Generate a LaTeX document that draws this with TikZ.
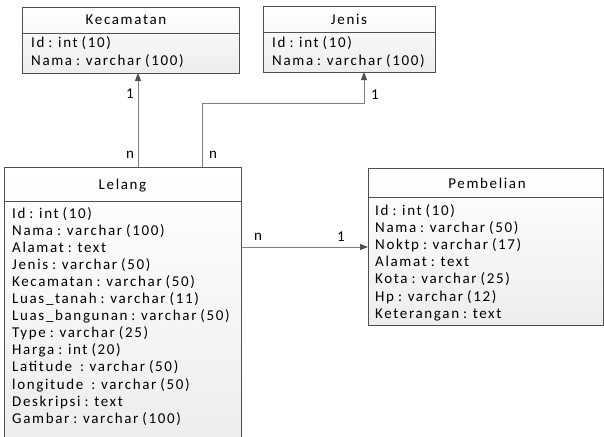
\documentclass[tikz,border=0pt]{standalone}
\usepackage{fontspec}
\setmainfont{Carlito}[LetterSpace=11]
\usetikzlibrary{arrows.meta}
\definecolor{boxline}{HTML}{505050}
\definecolor{connline}{HTML}{808080}
\definecolor{tipcol}{HTML}{505050}
\newcommand{\diafont}{\fontsize{15}{17}\selectfont\spaceskip=4pt\relax}
\tikzset{
  tbl/.style={draw=boxline, line width=0.8pt, top color=white, bottom color=black!7, inner sep=0pt},
  hline/.style={draw=boxline, line width=0.8pt},
  row/.style={anchor=base west, inner sep=0pt, font=\diafont},
  head/.style={anchor=base, inner sep=0pt, font=\diafont},
  lbl/.style={inner sep=0pt, font=\diafont},
  conn/.style={draw=connline, line width=1pt, -{Triangle[width=6pt,length=8pt,color=tipcol]}}
}
\begin{document}
\begin{tikzpicture}[x=1pt,y=-1pt]
\useasboundingbox (0,0) rectangle (604,436);
% boxes
\node[tbl, minimum width=217pt, minimum height=66pt] (kec) at (130.5,40) {};
\node[tbl, minimum width=172pt, minimum height=66pt] (jen) at (349,39) {};
\node[tbl, minimum width=237pt, minimum height=275pt] (lel) at (122.5,304.5) {};
\node[tbl, minimum width=235pt, minimum height=157pt] (pem) at (485.5,246.5) {};
% header separators
\draw[hline] (kec.west |- 0,33) -- (kec.east |- 0,33);
\draw[hline] (jen.west |- 0,32) -- (jen.east |- 0,32);
\draw[hline] (lel.west |- 0,201) -- (lel.east |- 0,201);
\draw[hline] (pem.west |- 0,197) -- (pem.east |- 0,197);
% headers
\node[head] (kech) at (126,25) {Kecamatan};
\node[head] (jenh) at (349,25) {Jenis};
\node[head] (lelh) at (122.5,189) {Lelang};
\node[head] (pemh) at (487,188) {Pembelian};
% rows
\foreach \t [count=\i] in {Id : int (10), Nama : varchar (100)}
  \node[row] (kecr\i) at (31,{48+18*(\i-1)}) {\t};
\foreach \t [count=\i] in {Id : int (10), Nama : varchar (100)}
  \node[row] (jenr\i) at (272,{48+18*(\i-1)}) {\t};
\foreach \t [count=\i] in {Id : int (10), Nama : varchar (100), Alamat : text, Jenis : varchar (50), Kecamatan : varchar (50), Luas\_tanah : varchar (11), Luas\_bangunan : varchar (50), Type : varchar (25), Harga : int (20), Latitude\hspace{8pt}: varchar (50), longitude\hspace{8pt}: varchar (50), Deskripsi : text, Gambar : varchar (100)}
  \node[row] (lelr\i) at (12,{218+17.1*(\i-1)}) {\t};
\foreach \t [count=\i] in {Id : int (10), Nama : varchar (50), Noktp : varchar (17), Alamat : text, Kota : varchar (25), Hp : varchar (12), Keterangan : text}
  \node[row] (pemr\i) at (375,{215+17.2*(\i-1)}) {\t};
% connectors
\coordinate (a1) at (138,167);
\coordinate (a2) at (138,73);
\draw[conn] (a1) -- (a2);
\coordinate (b1) at (202,167);
\coordinate (b2) at (364,72);
\draw[conn] (b1) -- (202,103) -- (364,103) -- (b2);
\coordinate (c1) at (241,247);
\coordinate (c2) at (368,247);
\draw[conn] (c1) -- (c2);
% labels
\node[lbl] (l1) at (130,94) {1};
\node[lbl] (l2) at (130,155) {n};
\node[lbl] (l3) at (375,95) {1};
\node[lbl] (l4) at (213,155) {n};
\node[lbl] (l5) at (258,237) {n};
\node[lbl] (l6) at (341,237) {1};
\end{tikzpicture}
\end{document}
